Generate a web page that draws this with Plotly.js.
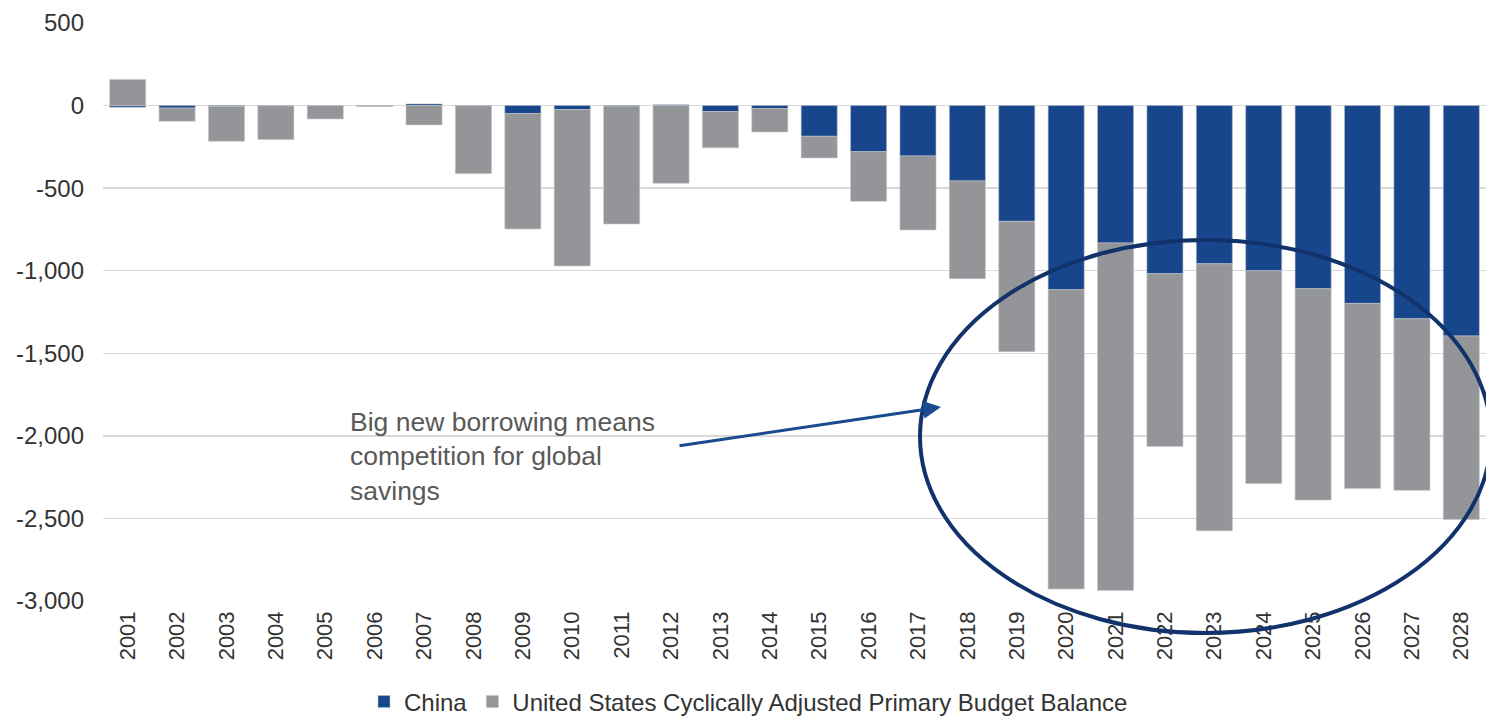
<!DOCTYPE html>
<html>
<head>
<meta charset="utf-8">
<script src="https://cdn.plot.ly/plotly-3.0.1.min.js"></script>
<style>
  html, body { margin: 0; padding: 0; background: #ffffff; }
  #chart { width: 1486px; height: 718px; }
</style>
</head>
<body>
<div id="chart"></div>
<script>
const years = ['2001','2002','2003','2004','2005','2006','2007','2008','2009','2010','2011','2012','2013','2014',
               '2015','2016','2017','2018','2019','2020','2021','2022','2023','2024','2025','2026','2027','2028'];
const china = [-10, -15, -5, -2, -1, -1, 10, -2, -48, -24, -3, 5, -36, -18,
               -186, -279, -305, -456, -701, -1115, -832, -1018, -958, -1000, -1109, -1198, -1291, -1395];
const usBalance = [158, -80, -211, -204, -80, -5, -117, -410, -699, -947, -714, -471, -220, -142,
                   -131, -301, -448, -592, -789, -1812, -2104, -1046, -1617, -1289, -1280, -1121, -1039, -1111];
const seriesNames = ['China', 'United States Cyclically Adjusted Primary Budget Balance'];
const yTicks = [500, 0, -500, -1000, -1500, -2000, -2500, -3000];
const yTickText = ['500', '0', '-500', '-1,000', '-1,500', '-2,000', '-2,500', '-3,000'];
const noteText = 'Big new borrowing means<br>competition for global<br>savings';

const FONT = 'Liberation Sans, Arial, sans-serif';

const traces = [
  { type: 'bar', name: seriesNames[0], x: years, y: china,
    marker: { color: '#17468c', line: { color: '#b8bcc6', width: 0.6 } }, hoverinfo: 'x+y' },
  { type: 'bar', name: seriesNames[1], x: years, y: usBalance,
    marker: { color: '#939598', line: { color: '#c4c5c7', width: 0.6 } }, hoverinfo: 'x+y' }
];

const px = v => (v - 103) / 1383;
const py = v => (601 - v) / 578;

const layout = {
  width: 1486, height: 718,
  margin: { l: 103, r: 0, t: 23, b: 117, autoexpand: false },
  paper_bgcolor: '#ffffff', plot_bgcolor: '#ffffff',
  barmode: 'relative',
  bargap: 0.27,
  font: { family: FONT, size: 22, color: '#333333' },
  xaxis: {
    type: 'category', tickangle: -90, showgrid: false, zeroline: false, showline: false,
    automargin: false,
    ticks: '', ticklabelstandoff: 5, tickfont: { family: FONT, size: 22, color: '#333333' }
  },
  yaxis: {
    range: [-3000, 500], tickvals: yTicks, ticktext: yTickText,
    automargin: false,
    showgrid: true, gridcolor: '#d9d9d9', gridwidth: 1.5,
    zeroline: true, zerolinecolor: '#d9d9d9', zerolinewidth: 1.5,
    showline: false, ticks: '', ticklabelstandoff: 18,
    tickfont: { family: FONT, size: 24, color: '#333333' }
  },
  showlegend: true,
  legend: {
    orientation: 'h', x: px(364), xanchor: 'left', y: py(702), yanchor: 'middle',
    font: { family: FONT, size: 24, color: '#333333' }, itemwidth: 30,
    bgcolor: 'rgba(0,0,0,0)'
  },
  annotations: [
    { xref: 'paper', yref: 'paper', x: px(348), y: py(405), xanchor: 'left', yanchor: 'top',
      text: noteText, showarrow: false, align: 'left',
      font: { family: FONT, size: 26.5, color: '#595959' } },
    { xref: 'paper', yref: 'paper', x: px(941), y: py(407), text: '', showarrow: true,
      axref: 'pixel', ayref: 'pixel', ax: -263, ay: 39,
      arrowcolor: '#1a4a8f', arrowwidth: 3, arrowhead: 2, arrowsize: 1.2, standoff: 0 }
  ],
  shapes: [
    { type: 'circle', xref: 'paper', yref: 'paper', x0: px(920), x1: px(1491), y0: py(633), y1: py(240),
      line: { color: '#12326b', width: 4 }, layer: 'above' }
  ]
};

Plotly.newPlot('chart', traces, layout, { displayModeBar: false, staticPlot: true });
</script>
</body>
</html>
